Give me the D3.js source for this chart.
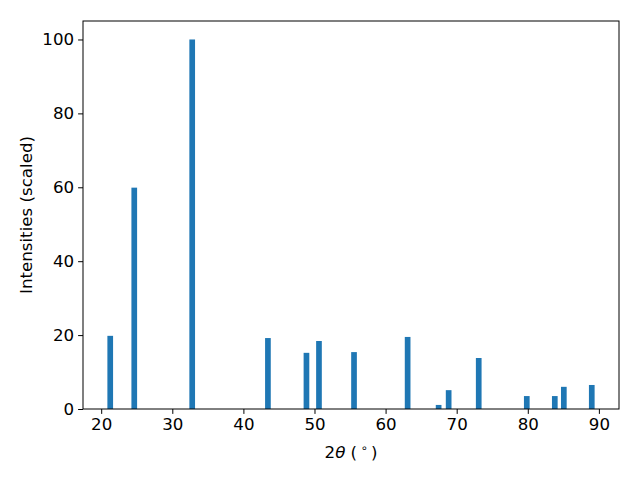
<!DOCTYPE html>
<html>
<head>
<meta charset="utf-8">
<script src="https://cdn.jsdelivr.net/npm/d3@7"></script>
<style>
  body { margin: 0; background: #fff; }
  text { font-family: "DejaVu Sans", sans-serif; fill: #000; }
</style>
</head>
<body>
<div id="chart"></div>
<script>
// peak positions (2theta, degrees) and scaled intensities
const angles = [21.27, 24.65, 32.8, 43.45, 48.87, 50.63, 55.56, 63.1, 67.46, 68.87, 73.1, 79.86, 83.8, 85.07, 89.0];
const intensities = [19.8, 59.9, 100, 19.2, 15.2, 18.4, 15.4, 19.5, 1.1, 5.1, 13.8, 3.5, 3.5, 6.0, 6.5];
const xTicks = [20, 30, 40, 50, 60, 70, 80, 90];
const yTicks = [0, 20, 40, 60, 80, 100];
const barWidth = 0.8;

const width = 640, height = 480;
const margin = {top: 21, right: 21, bottom: 71, left: 83};

const svg = d3.select('#chart').append('svg')
  .attr('width', width)
  .attr('height', height);

const x = d3.scaleLinear()
  .domain([17.44, 92.83])
  .range([margin.left, width - margin.right]);

const y = d3.scaleLinear()
  .domain([0, 105])
  .range([height - margin.bottom, margin.top]);

svg.selectAll('.bar')
  .data(angles)
  .enter().append('rect')
  .attr('class', 'bar')
  .attr('x', d => x(d - barWidth / 2))
  .attr('width', d => x(d + barWidth / 2) - x(d - barWidth / 2))
  .attr('y', (d, i) => y(intensities[i]))
  .attr('height', (d, i) => y(0) - y(intensities[i]))
  .style('fill', '#1f77b4');

const xAxis = svg.append('g')
  .attr('transform', `translate(0,${height - margin.bottom})`)
  .call(d3.axisBottom(x).tickValues(xTicks).tickSize(4.9).tickPadding(4));

const yAxis = svg.append('g')
  .attr('transform', `translate(${margin.left},0)`)
  .call(d3.axisLeft(y).tickValues(yTicks).tickSize(4.9).tickPadding(4));

[xAxis, yAxis].forEach(g => {
  g.select('.domain').remove();
  g.selectAll('line').attr('stroke', '#000').attr('stroke-width', 1);
  g.selectAll('text')
    .style('font-family', '"DejaVu Sans", sans-serif')
    .style('font-size', '16.67px')
    .attr('fill', '#000');
});

// frame
svg.append('rect')
  .attr('x', margin.left)
  .attr('y', margin.top)
  .attr('width', width - margin.left - margin.right)
  .attr('height', height - margin.top - margin.bottom)
  .style('fill', 'none')
  .style('stroke', '#000')
  .style('stroke-width', 1);

const xl = svg.append('text')
  .attr('x', (margin.left + width - margin.right) / 2)
  .attr('y', 458)
  .attr('text-anchor', 'middle')
  .style('font-size', '16.67px')
  .attr('xml:space', 'preserve');
xl.append('tspan').text('2');
xl.append('tspan').style('font-style', 'italic').text('θ');
xl.append('tspan').text(' (\u2009');
xl.append('tspan').attr('dy', -6).style('font-size', '11.5px').text('∘');
xl.append('tspan').attr('dy', 6).text('\u2009)');

svg.append('text')
  .attr('transform', `translate(32,${(margin.top + height - margin.bottom) / 2}) rotate(-90)`)
  .attr('text-anchor', 'middle')
  .style('font-size', '16.67px')
  .text('Intensities (scaled)');
</script>
</body>
</html>
